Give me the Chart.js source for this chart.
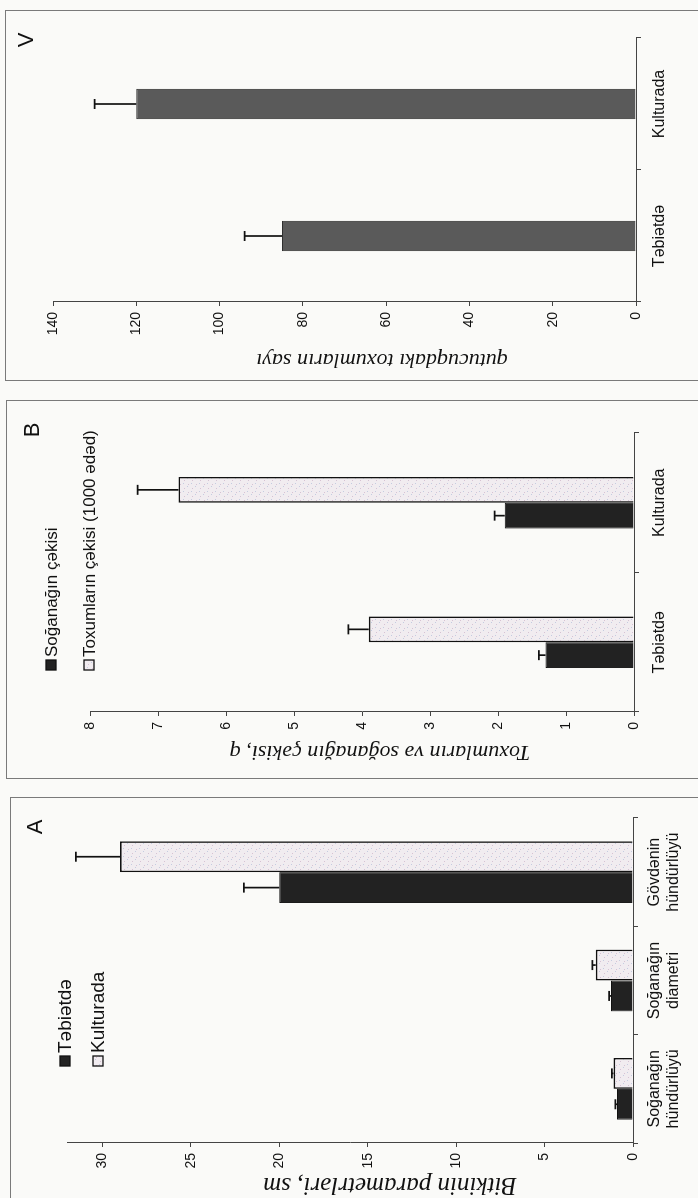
<!DOCTYPE html>
<html>
<head>
<meta charset="utf-8">
<script src="https://cdn.jsdelivr.net/npm/chart.js@4.4.1/dist/chart.umd.min.js"></script>
<style>
  html, body { margin: 0; padding: 0; }
  body { width: 698px; height: 1198px; overflow: hidden; background: #fafaf8; position: relative; }
  .frame { position: absolute; border: 1px solid #7a7a7a; }
  canvas { position: absolute; transform-origin: 0 0; transform: rotate(-90deg); }
</style>
</head>
<body>
<div class="frame" style="left:5px;top:10px;width:730px;height:369px"></div>
<div class="frame" style="left:6px;top:400px;width:730px;height:377px"></div>
<div class="frame" style="left:10px;top:797px;width:730px;height:420px"></div>

<canvas id="chartV" width="370" height="715" style="left:5px;top:380px"></canvas>
<canvas id="chartB" width="378" height="715" style="left:6px;top:778px"></canvas>
<canvas id="chartA" width="410" height="710" style="left:10px;top:1207px"></canvas>

<script>
// panel V - seeds per capsule
const categoriesV = ['Təbiətdə', 'Kulturada'];
const seedCount = [85, 120];
const seedCountErr = [9, 10];
const ticksV = [0, 20, 40, 60, 80, 100, 120, 140];

// panel B - weights
const categoriesB = ['Təbiətdə', 'Kulturada'];
const bulbWeight = [1.3, 1.9];
const bulbWeightErr = [0.1, 0.15];
const seedWeight = [3.9, 6.7];
const seedWeightErr = [0.3, 0.6];
const ticksB = [0, 1, 2, 3, 4, 5, 6, 7, 8];

// panel A - plant parameters
const categoriesA = [['Soğanağın', 'hündürlüyü'], ['Soğanağın', 'diametri'], ['Gövdənin', 'hündürlüyü']];
const wildA = [0.9, 1.25, 20];
const wildAErr = [0.1, 0.1, 2];
const cultA = [1.1, 2.1, 29];
const cultAErr = [0.1, 0.2, 2.5];
const ticksA = [0, 5, 10, 15, 20, 25, 30];

Chart.defaults.font.family = '"Liberation Sans", Arial, sans-serif';
Chart.defaults.color = '#111';

// speckled light fill, like the printed texture
function speckle() {
  const c = document.createElement('canvas');
  c.width = 8; c.height = 8;
  const g = c.getContext('2d');
  g.fillStyle = '#f1ecf0';
  g.fillRect(0, 0, 8, 8);
  g.fillStyle = '#d6c2d3';
  g.fillRect(1, 2, 1, 1); g.fillRect(5, 6, 1, 1);
  g.fillStyle = '#c4cce0';
  g.fillRect(6, 1, 1, 1); g.fillRect(3, 5, 1, 1);
  return g.createPattern(c, 'repeat');
}
const lightFill = speckle();

const errorBars = {
  id: 'errorBars',
  afterDatasetsDraw(chart) {
    const ctx = chart.ctx;
    const y = chart.scales.y;
    chart.data.datasets.forEach((ds, i) => {
      if (!ds.errors) return;
      chart.getDatasetMeta(i).data.forEach((bar, j) => {
        const top = y.getPixelForValue(ds.data[j] + ds.errors[j]);
        ctx.save();
        ctx.strokeStyle = '#111';
        ctx.lineWidth = 1.7;
        ctx.beginPath();
        ctx.moveTo(bar.x, bar.y); ctx.lineTo(bar.x, top);
        ctx.moveTo(bar.x - 5, top); ctx.lineTo(bar.x + 5, top);
        ctx.stroke();
        ctx.restore();
      });
    });
  }
};

// panel letter, value-axis title and the stacked legend
const panelDecor = {
  id: 'panelDecor',
  afterDraw(chart, args, opts) {
    const ctx = chart.ctx;
    ctx.save();
    ctx.fillStyle = '#111';
    ctx.textBaseline = 'middle';
    if (opts.tag) {
      ctx.font = '22px "Liberation Sans", Arial';
      ctx.textAlign = 'center';
      ctx.fillText(opts.tag.text, opts.tag.x, opts.tag.y);
    }
    if (opts.title) {
      const t = opts.title;
      ctx.save();
      ctx.font = 'italic ' + t.size + 'px "Liberation Serif", "Times New Roman", serif';
      ctx.textAlign = 'center';
      ctx.translate(t.x, t.y);
      ctx.rotate(-Math.PI / 2);
      ctx.fillText(t.text, 0, 0);
      ctx.restore();
    }
    if (opts.legend) {
      const L = opts.legend;
      ctx.font = L.size + 'px "Liberation Sans", Arial';
      ctx.textAlign = 'left';
      chart.data.datasets.forEach((ds, i) => {
        const yy = L.rows[i];
        ctx.fillStyle = ds.backgroundColor;
        ctx.fillRect(L.x, yy - 5, 10, 10);
        ctx.strokeStyle = '#111';
        ctx.lineWidth = 1.3;
        ctx.strokeRect(L.x, yy - 5, 10, 10);
        ctx.fillStyle = '#111';
        ctx.fillText(ds.label, L.x + 13, yy + 1);
      });
    }
    ctx.restore();
  }
};

function axisOpts(ticks, max, sizes) {
  return {
    x: {
      offset: true,
      grid: { offset: true, drawOnChartArea: false, tickLength: 5, color: '#444' },
      border: { color: '#444' },
      ticks: { font: { size: 16 }, padding: sizes.catPad, maxRotation: 0, autoSkip: false, color: '#111' },
      afterFit(s) { s.height = sizes.xh; }
    },
    y: {
      min: 0, max: max,
      afterBuildTicks(s) { s.ticks = ticks.map(v => ({ value: v })); },
      grid: { drawOnChartArea: false, tickLength: 4, color: '#444' },
      border: { color: '#444' },
      ticks: { font: { size: 14 }, padding: 6, color: '#111' },
      afterFit(s) { s.width = sizes.yw; }
    }
  };
}

new Chart(document.getElementById('chartV'), {
  type: 'bar',
  data: {
    labels: categoriesV,
    datasets: [{
      label: 'Toxumların sayı', data: seedCount, errors: seedCountErr,
      backgroundColor: '#5a5a5a', borderColor: '#2e2e2e', borderWidth: 1,
      barPercentage: 1, categoryPercentage: 0.23
    }]
  },
  options: {
    responsive: false, animation: false,
    layout: { padding: { top: 48, right: 28, left: 0, bottom: 0 } },
    plugins: {
      legend: { display: false }, tooltip: { enabled: false },
      panelDecor: {
        tag: { text: 'V', x: 340, y: 22 },
        title: { text: 'qutucuqdakı toxumların sayı', x: 20, y: 377, size: 22 }
      }
    },
    scales: axisOpts(ticksV, 140, { xh: 84, yw: 78, catPad: 9 })
  },
  plugins: [errorBars, panelDecor]
});

new Chart(document.getElementById('chartB'), {
  type: 'bar',
  data: {
    labels: categoriesB,
    datasets: [
      { label: 'Soğanağın çəkisi', data: bulbWeight, errors: bulbWeightErr,
        backgroundColor: '#222', borderColor: '#111', borderWidth: 1,
        barPercentage: 1, categoryPercentage: 0.37 },
      { label: 'Toxumların çəkisi (1000 ədəd)', data: seedWeight, errors: seedWeightErr,
        backgroundColor: lightFill, borderColor: '#111', borderWidth: 1.6,
        barPercentage: 1, categoryPercentage: 0.37 }
    ]
  },
  options: {
    responsive: false, animation: false,
    layout: { padding: { top: 84, right: 33, left: 0, bottom: 0 } },
    plugins: {
      legend: { display: false }, tooltip: { enabled: false },
      panelDecor: {
        tag: { text: 'B', x: 348, y: 27 },
        title: { text: 'Toxumların və soğanağın çəkisi, q', x: 26, y: 374, size: 22 },
        legend: { x: 108, rows: [45, 83], size: 17 }
      }
    },
    scales: axisOpts(ticksB, 8, { xh: 87, yw: 66, catPad: 11 })
  },
  plugins: [errorBars, panelDecor]
});

new Chart(document.getElementById('chartA'), {
  type: 'bar',
  data: {
    labels: categoriesA,
    datasets: [
      { label: 'Təbiətdə', data: wildA, errors: wildAErr,
        backgroundColor: '#222', borderColor: '#111', borderWidth: 1,
        barPercentage: 1, categoryPercentage: 0.57 },
      { label: 'Kulturada', data: cultA, errors: cultAErr,
        backgroundColor: lightFill, borderColor: '#111', borderWidth: 1.6,
        barPercentage: 1, categoryPercentage: 0.57 }
    ]
  },
  options: {
    responsive: false, animation: false,
    layout: { padding: { top: 57, right: 21, left: 0, bottom: 0 } },
    plugins: {
      legend: { display: false }, tooltip: { enabled: false },
      panelDecor: {
        tag: { text: 'A', x: 380, y: 26 },
        title: { text: 'Bitkinin parametrləri, sm', x: 22, y: 380, size: 25 },
        legend: { x: 141, rows: [55, 88], size: 19 }
      }
    },
    scales: axisOpts(ticksA, 32, { xh: 87, yw: 64, catPad: 7 })
  },
  plugins: [errorBars, panelDecor]
});
</script>
</body>
</html>
